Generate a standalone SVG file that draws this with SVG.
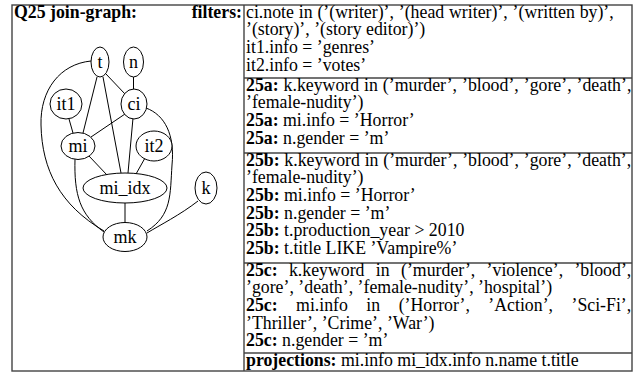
<svg xmlns="http://www.w3.org/2000/svg" width="638" height="374" viewBox="0 0 638 374">
  <style>
    text { font-family: "Liberation Serif", "Times New Roman", serif; fill: #000; }
    .t { font-size: 17.8px; }
    .b { font-weight: bold; }
    .rule { stroke: #444; stroke-width: 1.4; fill: none; }
    .node ellipse { fill: #fff; stroke: #000; stroke-width: 1; }
    .node text { font-size: 18px; text-anchor: middle; }
    #edges path { fill: none; stroke: #000; stroke-width: 1; }
  </style>
  <rect width="638" height="374" fill="#fff"/>

  <!-- table frame -->
  <g id="table">
    <rect class="rule" x="12" y="5" width="620" height="366"/>
    <line class="rule" x1="244" y1="5" x2="244" y2="371"/>
    <line class="rule" x1="244" y1="78" x2="632" y2="78"/>
    <line class="rule" x1="244" y1="153" x2="632" y2="153"/>
    <line class="rule" x1="244" y1="263" x2="632" y2="263"/>
    <line class="rule" x1="244" y1="353" x2="632" y2="353"/>
  </g>

  <text class="t b" x="14" y="17.5">Q25 join-graph:</text>
  <text class="t b" x="242" y="17.5" text-anchor="end">filters:</text>

  <!-- connectors -->
  <g id="edges">
    <path d="M106,74 L125,94"/>
    <path d="M133.5,77 L133.5,90"/>
    <path d="M91,61 C60,64 40,90 41,125 C42,170 60,205 104,231"/>
    <path d="M97,77 L83,133"/>
    <path d="M103,77 L121,173"/>
    <path d="M125,114 L91,137"/>
    <path d="M133,118 L128,173"/>
    <path d="M146,108 C165,115 175,135 172,165 C170,195 172,215 147,231"/>
    <path d="M69,119 L73,133"/>
    <path d="M89,156 L107,175"/>
    <path d="M145,158 L136,174"/>
    <path d="M75,159 C74,195 80,215 104,232"/>
    <path d="M125,203 L125,222"/>
    <path d="M198,201 C180,215 160,225 147,233"/>
  </g>

  <!-- nodes -->
  <g id="t" class="node"><ellipse cx="100" cy="62" rx="9" ry="15"/><text x="100" y="67.5">t</text></g>
  <g id="n" class="node"><ellipse cx="133.5" cy="62" rx="10" ry="15"/><text x="133.5" y="67.5">n</text></g>
  <g id="it1" class="node"><ellipse cx="66" cy="104" rx="16" ry="15"/><text x="66" y="109.5">it1</text></g>
  <g id="ci" class="node"><ellipse cx="134" cy="104" rx="13" ry="15"/><text x="134" y="109.5">ci</text></g>
  <g id="mi" class="node"><ellipse cx="78" cy="146" rx="17" ry="13.5"/><text x="78" y="151.5">mi</text></g>
  <g id="it2" class="node"><ellipse cx="154" cy="146" rx="18" ry="15"/><text x="154" y="151.5">it2</text></g>
  <g id="mi_idx" class="node"><ellipse cx="125" cy="188" rx="42" ry="15"/><text x="125" y="193.5">mi_idx</text></g>
  <g id="k" class="node"><ellipse cx="206" cy="188" rx="11" ry="16"/><text x="206" y="193.5">k</text></g>
  <g id="mk" class="node"><ellipse cx="125" cy="237" rx="22" ry="14.5"/><text x="125" y="242.5">mk</text></g>

  <!-- filter predicates -->
  <g id="filters" class="t">
    <text class="t" x="246" y="17.5" word-spacing="0.4">ci.note in (’(writer)’, ’(head writer)’, ’(written by)’,</text>
    <text class="t" x="246" y="35.2">’(story)’, ’(story editor)’)</text>
    <text class="t" x="246" y="52.9">it1.info = ’genres’</text>
    <text class="t" x="246" y="70.6">it2.info = ’votes’</text>

    <text class="t" x="246" y="90.5" word-spacing="0.5"><tspan class="b">25a:</tspan> k.keyword in (’murder’, ’blood’, ’gore’, ’death’,</text>
    <text class="t" x="246" y="108.2">’female-nudity’)</text>
    <text class="t" x="246" y="125.9"><tspan class="b">25a:</tspan> mi.info = ’Horror’</text>
    <text class="t" x="246" y="143.6"><tspan class="b">25a:</tspan> n.gender = ’m’</text>

    <text class="t" x="246" y="165.5" word-spacing="0.3"><tspan class="b">25b:</tspan> k.keyword in (’murder’, ’blood’, ’gore’, ’death’,</text>
    <text class="t" x="246" y="183.2">’female-nudity’)</text>
    <text class="t" x="246" y="200.9"><tspan class="b">25b:</tspan> mi.info = ’Horror’</text>
    <text class="t" x="246" y="218.6"><tspan class="b">25b:</tspan> n.gender = ’m’</text>
    <text class="t" x="246" y="236.3"><tspan class="b">25b:</tspan> t.production_year &gt; 2010</text>
    <text class="t" x="246" y="254"><tspan class="b">25b:</tspan> t.title LIKE ’Vampire%’</text>

    <text class="t" x="246" y="275.5" word-spacing="6.9"><tspan class="b">25c:</tspan> k.keyword in (’murder’, ’violence’, ’blood’,</text>
    <text class="t" x="246" y="293.2">’gore’, ’death’, ’female-nudity’, ’hospital’)</text>
    <text class="t" x="246" y="310.9" word-spacing="14"><tspan class="b">25c:</tspan> mi.info in (’Horror’, ’Action’, ’Sci-Fi’,</text>
    <text class="t" x="246" y="328.6">’Thriller’, ’Crime’, ’War’)</text>
    <text class="t" x="246" y="346.3"><tspan class="b">25c:</tspan> n.gender = ’m’</text>

    <text class="t" x="246" y="365.5"><tspan class="b">projections:</tspan> mi.info mi_idx.info n.name t.title</text>
  </g>
</svg>
